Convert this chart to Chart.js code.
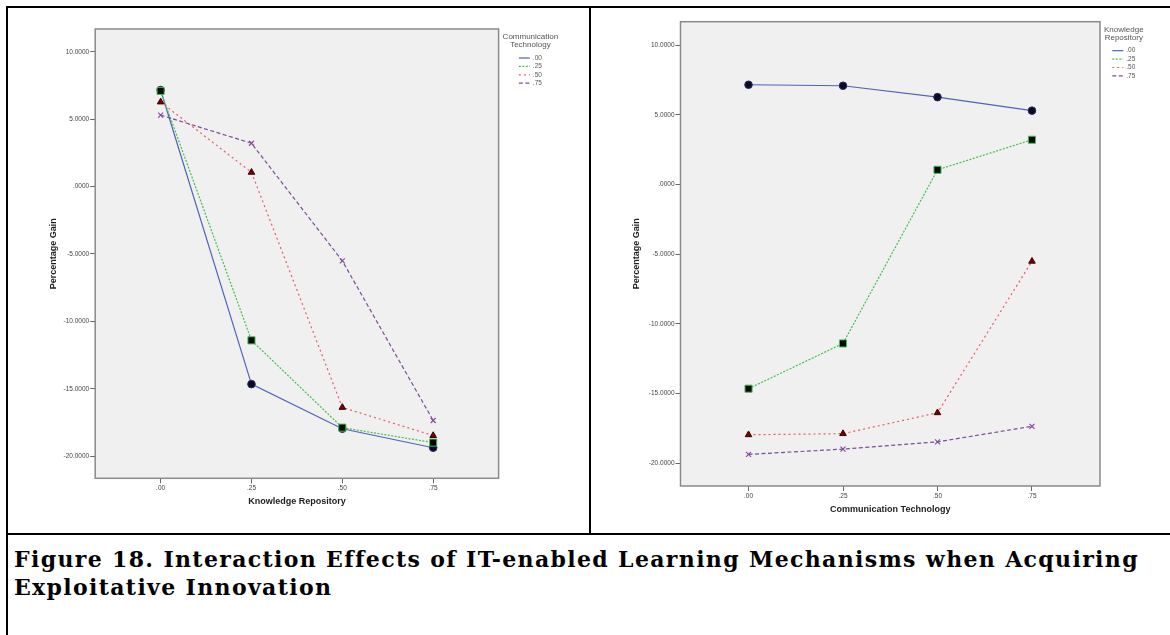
<!DOCTYPE html>
<html>
<head>
<meta charset="utf-8">
<script src="https://cdn.jsdelivr.net/npm/chart.js@4.4.1/dist/chart.umd.min.js"></script>
<style>
  html, body { margin: 0; padding: 0; background: #fff; }
  body { width: 1170px; height: 635px; position: relative; overflow: hidden; }
  .line { position: absolute; background: #000; }
  #frameTop { left: 6px; top: 6px; width: 1164px; height: 2px; }
  #frameLeft { left: 6px; top: 6px; width: 2px; height: 629px; }
  #divider { left: 589px; top: 6px; width: 2px; height: 529px; }
  #rule { left: 6px; top: 533px; width: 1164px; height: 2px; }
  #leftChart { position: absolute; left: 8px; top: 8px; }
  #rightChart { position: absolute; left: 592px; top: 8px; }
  #caption {
    position: absolute; left: 14px; top: 545.8px;
    font: bold 22px "DejaVu Serif", serif; line-height: 27.7px;
    white-space: nowrap; color: #000;
  }
</style>
</head>
<body>
<div class="line" id="frameTop"></div>
<div class="line" id="frameLeft"></div>
<div class="line" id="divider"></div>
<div class="line" id="rule"></div>
<canvas id="leftChart" width="580" height="524"></canvas>
<canvas id="rightChart" width="578" height="524"></canvas>
<div id="caption"><span id="capLine1">Figure 18. Interaction Effects of IT-enabled Learning Mechanisms when Acquiring</span><br>Exploitative Innovation</div>

<script>
// axis ticks / level labels
const xTicks = [0, 0.25, 0.5, 0.75];
const yTicks = [-20, -15, -10, -5, 0, 5, 10];
const levelLabels = [".00", ".25", ".50", ".75"];

// Percentage gain for each Knowledge Repository level, across Communication Technology .00 .25 .50 .75
const krLevel00 = [7.17, 7.10, 6.28, 5.31];
const krLevel25 = [-14.66, -11.41, 1.06, 3.22];
const krLevel50 = [-17.97, -17.89, -16.39, -5.51];
const krLevel75 = [-19.38, -19.00, -18.48, -17.36];

const krSeries = [krLevel00, krLevel25, krLevel50, krLevel75];
// left chart is the same table read the other way (one line per Communication Technology level)
const ctSeries = xTicks.map((_, c) => krSeries.map(row => row[c]));

// series styles
const lineColors = ["#4f63b8", "#3fbf4f", "#ec5a63", "#7b4d9b"];
const lineDashes = [[], [2, 1.5], [2, 3], [4, 2.5]];
const pointStyles = ["circle", "rect", "triangle", "crossRot"];
const pointRadii = [3.8, 5, 3.8, 3.5];
const pointFills = ["#0b0b1f", "#050505", "#7a0000", "#8a4a9e"];
const pointEdges = ["#2a2a6e", "#3fbf4f", "#3a0000", "#8a4a9e"];

const FONT = "'Liberation Sans', Arial, sans-serif";

// grey plot box like SPSS
const plotFrame = {
  id: "plotFrame",
  beforeDatasetsDraw(chart) {
    const { ctx, chartArea: a } = chart;
    ctx.save();
    ctx.fillStyle = "#f0f0f0";
    ctx.fillRect(a.left, a.top, a.right - a.left, a.bottom - a.top);
    ctx.strokeStyle = "#8a8a8a";
    ctx.lineWidth = 1.5;
    ctx.strokeRect(a.left, a.top, a.right - a.left, a.bottom - a.top);
    ctx.restore();
  }
};

// legend to the right of the plot box, title on two lines
const spssLegend = {
  id: "spssLegend",
  afterDraw(chart, args, opts) {
    const { ctx, chartArea: a } = chart;
    ctx.save();
    ctx.fillStyle = "#555";
    ctx.textBaseline = "middle";
    ctx.font = "8px " + FONT;
    const titleW = Math.max(...opts.title.map(t => ctx.measureText(t).width));
    const cx = a.right + 4 + titleW / 2;
    ctx.textAlign = "center";
    opts.title.forEach((t, i) => ctx.fillText(t, cx, a.top + 8 + i * 8.2));

    ctx.font = "6.5px " + FONT;
    const sampleW = 11, gap = 3;
    const labelW = ctx.measureText(".00").width;
    const x0 = cx - (sampleW + gap + labelW) / 2;
    ctx.textAlign = "left";
    chart.data.datasets.forEach((ds, i) => {
      const y = a.top + 29 + i * 8.4;
      ctx.strokeStyle = ds.borderColor;
      ctx.lineWidth = 1.2;
      ctx.setLineDash(ds.borderDash);
      ctx.beginPath();
      ctx.moveTo(x0, y);
      ctx.lineTo(x0 + sampleW, y);
      ctx.stroke();
      ctx.setLineDash([]);
      ctx.fillText(ds.label, x0 + sampleW + gap, y);
    });
    ctx.restore();
  }
};

function buildChart(canvasId, cfg) {
  const datasets = cfg.series.map((vals, i) => ({
    label: levelLabels[i],
    data: xTicks.map((x, j) => ({ x: x, y: vals[j] })),
    borderColor: lineColors[i],
    borderWidth: 1.2,
    borderDash: lineDashes[i],
    pointStyle: pointStyles[i],
    pointRadius: pointRadii[i],
    pointBackgroundColor: pointFills[i],
    pointBorderColor: pointEdges[i],
    pointBorderWidth: i === 3 ? 1.2 : 1,
    tension: 0,
    fill: false,
    order: 3 - i
  }));

  return new Chart(document.getElementById(canvasId), {
    type: "line",
    data: { datasets: datasets },
    options: {
      responsive: false,
      animation: false,
      layout: { padding: cfg.padding },
      plugins: {
        legend: { display: false },
        tooltip: { enabled: false },
        spssLegend: { title: cfg.legendTitle }
      },
      scales: {
        x: {
          type: "linear",
          min: -0.18,
          max: 0.93,
          afterBuildTicks: s => { s.ticks = xTicks.map(v => ({ value: v })); },
          afterFit: s => { s.height = 40; },
          grid: { drawOnChartArea: false, drawTicks: true, tickLength: 5, color: "#666" },
          border: { display: false },
          ticks: {
            autoSkip: false, maxRotation: 0, padding: 1, color: "#444",
            font: { family: FONT, size: 6.5 },
            callback: v => v.toFixed(2).replace(/^(-?)0\./, "$1.")
          },
          title: {
            display: true, text: cfg.xTitle, color: "#222",
            font: { family: FONT, size: 9, weight: "bold" },
            padding: { top: 0, bottom: cfg.xTitlePad }
          }
        },
        y: {
          type: "linear",
          min: -21.65,
          max: 11.7,
          afterBuildTicks: s => { s.ticks = yTicks.map(v => ({ value: v })); },
          afterFit: s => { s.width = cfg.yWidth; },
          grid: { drawOnChartArea: false, drawTicks: true, tickLength: 5, color: "#666" },
          border: { display: false },
          ticks: {
            autoSkip: false, padding: 1, color: "#444",
            font: { family: FONT, size: 6.5 },
            callback: v => v.toFixed(4).replace(/^(-?)0\./, "$1.")
          },
          title: {
            display: true, text: "Percentage Gain", color: "#222",
            font: { family: FONT, size: 9, weight: "bold" },
            padding: { top: cfg.yTitlePad, bottom: 0 }
          }
        }
      }
    },
    plugins: [plotFrame, spssLegend]
  });
}

buildChart("leftChart", {
  series: ctSeries,
  xTitle: "Knowledge Repository",
  legendTitle: ["Communication", "Technology"],
  padding: { left: 0, top: 21, right: 89.4, bottom: 13.7 },
  yWidth: 87.2,
  yTitlePad: 40.4,
  xTitlePad: 11.2
});

buildChart("rightChart", {
  series: krSeries,
  xTitle: "Communication Technology",
  legendTitle: ["Knowledge", "Repository"],
  padding: { left: 0, top: 13.7, right: 70, bottom: 6 },
  yWidth: 88.5,
  yTitlePad: 39.6,
  xTitlePad: 10.6
});

// stretch caption line so it spans like the source figure
function fitCaption() {
  const line1 = document.getElementById("capLine1");
  const w = line1.getBoundingClientRect().width;
  const n = line1.textContent.length;
  document.getElementById("caption").style.letterSpacing = ((1124 - w) / n) + "px";
}
document.fonts.ready.then(fitCaption);
</script>
</body>
</html>
